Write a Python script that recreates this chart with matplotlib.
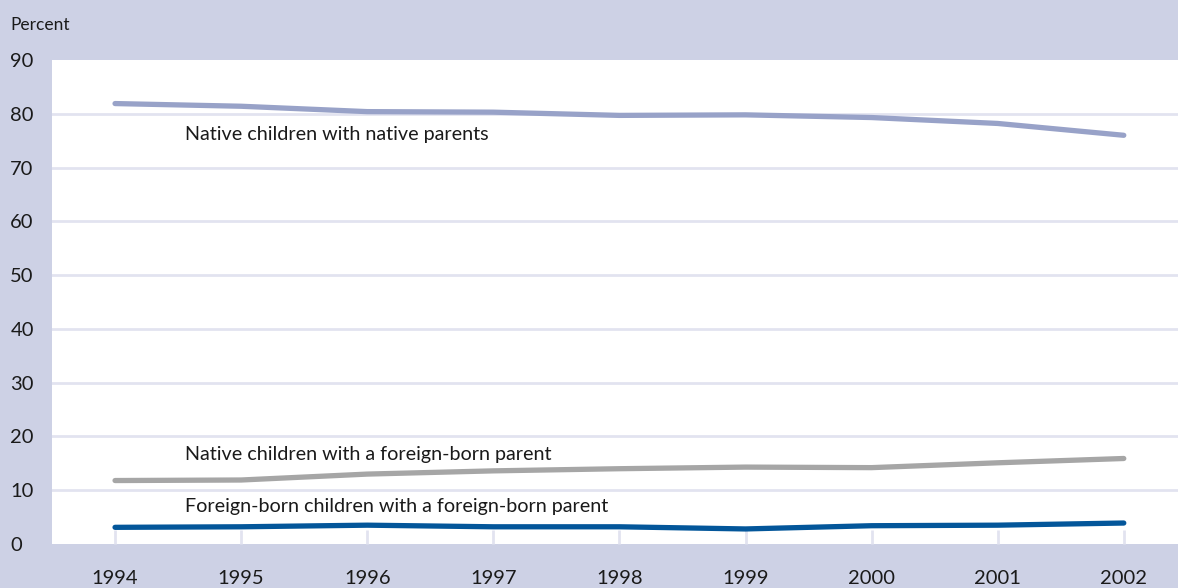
import matplotlib.pyplot as plt

years = [1994, 1995, 1996, 1997, 1998, 1999, 2000, 2001, 2002]
native_native = [81.9, 81.4, 80.4, 80.3, 79.7, 79.8, 79.3, 78.2, 76.0]
native_foreign = [11.8, 11.9, 13.0, 13.6, 14.0, 14.3, 14.2, 15.1, 15.9]
foreign_foreign = [3.1, 3.2, 3.5, 3.2, 3.2, 2.8, 3.4, 3.5, 3.9]
yticks = [0, 10, 20, 30, 40, 50, 60, 70, 80, 90]

bg = '#cdd1e5'
grid = '#e2e3f0'

plt.rcParams['font.family'] = ['Lato', 'DejaVu Sans']

fig = plt.figure(figsize=(11.78, 5.88), dpi=100, facecolor=bg)
ax = fig.add_axes([52 / 1178, 44 / 588, 1 - 52 / 1178, (544 - 60) / 588])
ax.set_facecolor('white')

for v in yticks[1:-1]:
    ax.axhline(v, color=grid, lw=2, zorder=1)

ax.plot(years, native_native, color='#98a2c8', lw=3.8, solid_capstyle='round', zorder=3)
ax.plot(years, native_foreign, color='#a6a6a6', lw=3.8, solid_capstyle='round', zorder=3)
ax.plot(years, foreign_foreign, color='#03569a', lw=3.8, solid_capstyle='round', zorder=3)

ax.text(1994.555, 76.2, 'Native children with native parents', fontsize=14.2, va='center', color='#1a1a1a')
ax.text(1994.555, 16.6, 'Native children with a foreign-born parent', fontsize=14.2, va='center', color='#1a1a1a')
ax.text(1994.555, 7.0, 'Foreign-born children with a foreign-born parent', fontsize=14.2, va='center', color='#1a1a1a')

ax.set_xlim(1993.5, 2002.43)
ax.set_ylim(0, 90)
ax.set_xticks(years)
ax.set_xticklabels([str(y) for y in years])
ax.set_yticks(yticks)
for s in ax.spines.values():
    s.set_visible(False)

ax.tick_params(axis='x', direction='in', length=10, width=2, color=grid,
               labelsize=14.5, pad=19, labelcolor='#1a1a1a')
ax.tick_params(axis='y', length=0, labelsize=14.5, pad=30, labelcolor='#1a1a1a')
for lab in ax.get_yticklabels():
    lab.set_horizontalalignment('left')

fig.text(10 / 1178, 1 - 25 / 588, 'Percent', fontsize=12.5, va='center', ha='left', color='#1a1a1a')

fig.savefig('out.png', dpi=100, facecolor=bg)
